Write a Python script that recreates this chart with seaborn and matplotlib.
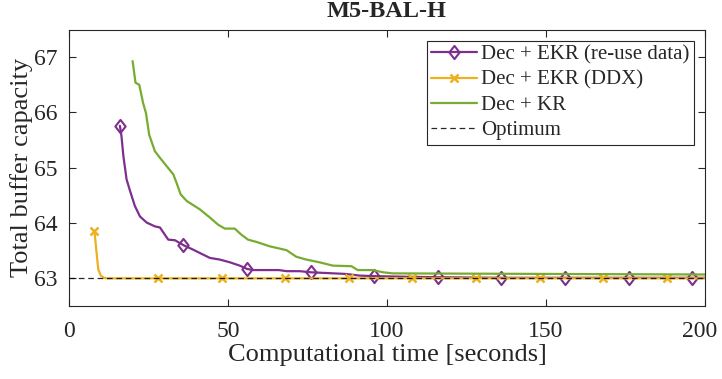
import numpy as np
import pandas as pd
import matplotlib
matplotlib.use("Agg")
import matplotlib.pyplot as plt
from matplotlib.path import Path
from matplotlib.transforms import ScaledTranslation
import seaborn as sns

# ---- data ----
t_reuse = [16, 16.5, 17.1, 18.1, 19.2, 20.7, 22.3, 24.4, 27.0, 28.6, 31.2, 33.3, 36, 39.0,
           41.1, 44.3, 47.4, 50.6, 53.7, 56, 58.0, 66.0, 68.4, 72.6, 76, 87.0, 91.4, 96,
           105, 116, 136, 156, 176, 196, 200]
y_reuse = [65.76, 65.57, 65.21, 64.79, 64.58, 64.31, 64.12, 64.01, 63.94, 63.92, 63.70, 63.69,
           63.60, 63.52, 63.46, 63.37, 63.34, 63.29, 63.23, 63.17, 63.15, 63.15, 63.13, 63.13,
           63.11, 63.08, 63.05, 63.04, 63.03, 63.02, 63.01, 63.01, 63.01, 63.01, 63.01]
marks_reuse = [16, 36, 56, 76, 96, 116, 136, 156, 176, 196]

t_ddx = [8, 8.6, 9.2, 10.0, 11.0, 12.0, 28, 48, 68, 88, 108, 128, 148, 168, 188, 200]
y_ddx = [63.86, 63.50, 63.16, 63.05, 63.01, 63.0, 63.0, 63.0, 63.0, 63.0, 63.0, 63.0,
         63.0, 63.0, 63.0, 63.0]
marks_ddx = [8, 28, 48, 68, 88, 108, 128, 148, 168, 188]

t_kr = [20, 20.9, 22.1, 23.3, 24.2, 25.2, 27.0, 28.6, 30.7, 32.8, 33.8, 35.1, 37.0, 41.1,
        44.3, 46.9, 49.0, 52.1, 54.2, 56.3, 58.9, 63.1, 68.4, 71.5, 74.6, 78.8, 83.0, 88.8,
        90.8, 95.5, 98.7, 101.8, 150, 200]
y_kr = [66.93, 66.54, 66.50, 66.17, 65.99, 65.60, 65.30, 65.18, 65.03, 64.88, 64.73, 64.52,
        64.40, 64.25, 64.10, 63.97, 63.90, 63.90, 63.79, 63.70, 63.66, 63.58, 63.51, 63.39,
        63.34, 63.29, 63.23, 63.22, 63.15, 63.15, 63.11, 63.09, 63.08, 63.07]

t_opt = [0, 200]
y_opt = [63, 63]

labels = ["Dec + EKR (re-use data)", "Dec + EKR (DDX)", "Dec + KR", "Optimum"]
x_ticks = [0, 50, 100, 150, 200]
y_ticks = [63, 64, 65, 66, 67]

# ---- style ----
sns.set_style("ticks")
plt.rcParams["font.family"] = ["Liberation Serif", "DejaVu Serif"]

c_purple = "#7E2F8E"
c_yellow = "#EDB120"
c_green = "#77AC30"
c_axis = "#262626"

diamond = Path([(0, 1), (0.78, 0), (0, -1), (-0.78, 0), (0, 1)],
               [Path.MOVETO, Path.LINETO, Path.LINETO, Path.LINETO, Path.CLOSEPOLY])

fig = plt.figure(figsize=(7.22, 3.79), dpi=100)
ax = fig.add_axes([0.0956, 0.1926, 0.8808, 0.7294])

def idx(ts, marks):
    return [i for i, t in enumerate(ts) if t in marks]

sns.lineplot(x=t_reuse, y=y_reuse, ax=ax, color=c_purple, lw=1.6, label=labels[0],
             marker=diamond, markersize=9.5, markerfacecolor="none",
             markeredgecolor=c_purple, markeredgewidth=1.5,
             markevery=idx(t_reuse, marks_reuse), sort=False, estimator=None)
sns.lineplot(x=t_ddx, y=y_ddx, ax=ax, color=c_yellow, lw=1.6, label=labels[1],
             marker="x", markersize=5.5, markeredgewidth=1.8, markeredgecolor=c_yellow,
             markevery=idx(t_ddx, marks_ddx), sort=False, estimator=None)
sns.lineplot(x=t_kr, y=y_kr, ax=ax, color=c_green, lw=1.6, label=labels[2],
             sort=False, estimator=None)
sns.lineplot(x=t_opt, y=y_opt, ax=ax, color="black", lw=0.9, linestyle=(0, (4.5, 3)),
             label=labels[3], sort=False, estimator=None, zorder=5, alpha=0.85)

ax.set_xlim(0, 200)
ax.set_ylim(62.5, 67.5)
ax.set_xticks(x_ticks)
ax.set_yticks(y_ticks)
ax.tick_params(direction="in", top=True, right=True, length=5, width=0.8,
               labelsize=17, colors=c_axis)
ax.tick_params(axis="x", pad=11)
ax.tick_params(axis="y", pad=8)
for s in ax.spines.values():
    s.set_color(c_axis)
    s.set_linewidth(0.8)

ax.set_xlabel("Computational time [seconds]", fontsize=19, color=c_axis, labelpad=1)
ax.set_ylabel("Total buffer capacity", fontsize=19, color=c_axis, labelpad=1)
ax.set_title("M5-BAL-H", fontsize=17.5, fontweight="bold", pad=9)

leg = ax.legend(loc="upper right", fontsize=15, frameon=True, fancybox=False,
                edgecolor=c_axis, framealpha=1, handlelength=2.2, handletextpad=0.2,
                borderpad=0.2, labelspacing=0.27, borderaxespad=0.55)
leg.get_frame().set_linewidth(0.8)

# nudge the last x tick label so it stays inside the canvas
fig.canvas.draw()
last = ax.xaxis.get_major_ticks()[-1].label1
last.set_transform(last.get_transform() + ScaledTranslation(-4 / 72, 0, fig.dpi_scale_trans))

fig.savefig("out.png", dpi=100)
